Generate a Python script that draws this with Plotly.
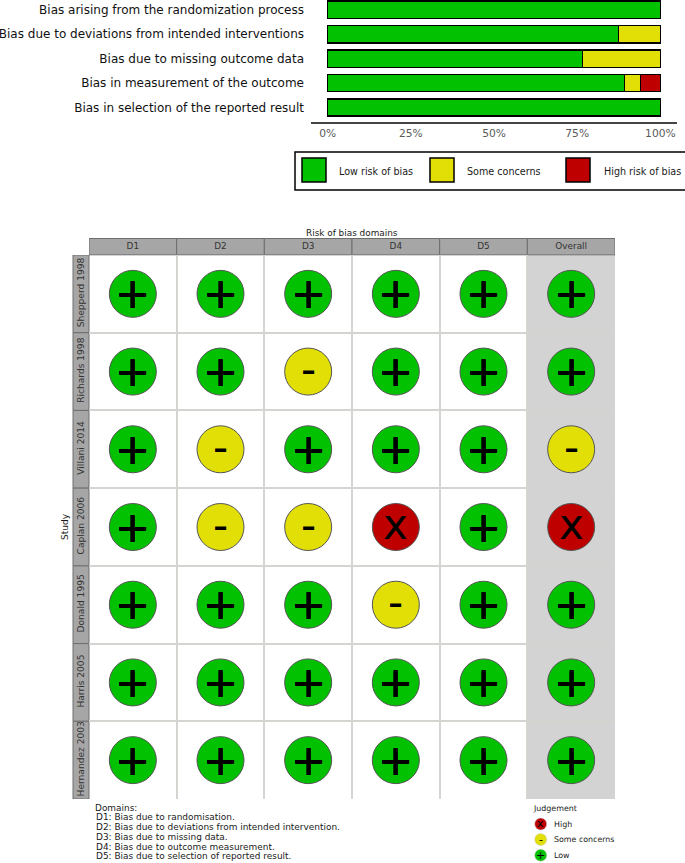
import plotly.graph_objects as go

W, H = 685, 863
FONT = "DejaVu Sans"
GREEN, YELLOW, RED = "#02C100", "#E2DF07", "#BF0000"

# ---- summary data
domains_long = ["Bias arising from the randomization process",
                "Bias due to deviations from intended interventions",
                "Bias due to missing outcome data",
                "Bias in measurement of the outcome",
                "Bias in selection of the reported result"]
low_pct = [100, 87.4, 76.6, 89.2, 100]
some_pct = [0, 12.6, 23.4, 4.9, 0]
high_pct = [0, 0, 0, 5.9, 0]
pct_ticks = [0, 25, 50, 75, 100]
pct_labels = ["0%", "25%", "50%", "75%", "100%"]
legend_names = ["Low risk of bias", "Some concerns", "High risk of bias"]

# ---- traffic-light data
studies = ["Shepperd 1998", "Richards 1998", "Villani 2014", "Caplan 2006",
           "Donald 1995", "Harris 2005", "Hernandez 2003"]
columns = ["D1", "D2", "D3", "D4", "D5", "Overall"]
judgements = [["+", "+", "+", "+", "+", "+"],
              ["+", "+", "-", "+", "+", "+"],
              ["+", "-", "+", "+", "+", "-"],
              ["+", "-", "-", "x", "+", "x"],
              ["+", "+", "+", "-", "+", "+"],
              ["+", "+", "+", "+", "+", "+"],
              ["+", "+", "+", "+", "+", "+"]]
domain_notes = ["Domains:",
                "D1: Bias due to randomisation.",
                "D2: Bias due to deviations from intended intervention.",
                "D3: Bias due to missing data.",
                "D4: Bias due to outcome measurement.",
                "D5: Bias due to selection of reported result."]
judgement_names = ["High", "Some concerns", "Low"]
judgement_marks = ["x", "-", "+"]

COL = {"+": GREEN, "-": YELLOW, "x": RED}
SHIFT = {"+": 0, "-": 2, "x": 3}
THICKEN = {"+": "0.2px 0 0 #000, -0.2px 0 0 #000, 0 0.2px 0 #000, 0 -0.2px 0 #000",
           "-": "none", "x": "none"}


def px(x):
    return x / W


def py(y):
    return 1 - y / H


def label(x, y, text, size, color="#1a1a1a", anchor="left", angle=0):
    return dict(x=px(x), y=py(y), xref="paper", yref="paper", text=text, showarrow=False,
                xanchor=anchor, yanchor="middle", textangle=angle,
                font=dict(family=FONT, size=size, color=color))


def rect(x0, y0, x1, y1, fill, line="#000000", lw=1.5, layer="above"):
    return dict(type="rect", xref="paper", yref="paper", x0=px(x0), x1=px(x1), y0=py(y0), y1=py(y1),
                fillcolor=fill, line=dict(color=line, width=lw), layer=layer)


fig = go.Figure()

# summary bars
for vals, name, col in zip([low_pct, some_pct, high_pct], legend_names, [GREEN, YELLOW, RED]):
    fig.add_bar(x=vals, y=domains_long, orientation="h", name=name, xaxis="x", yaxis="y",
                marker=dict(color=col, line=dict(color="#000000", width=1.5)), showlegend=False)

# traffic-light circles
xs, ys, cs = [], [], []
annotations = []
for r, study in enumerate(studies):
    for c, col in enumerate(columns):
        j = judgements[r][c]
        xs.append(col)
        ys.append(study)
        cs.append(COL[j])
        annotations.append(dict(x=col, y=study, xref="x2", yref="y2", text=j, showarrow=False,
                                xanchor="center", yanchor="middle", yshift=SHIFT[j],
                                font=dict(family=FONT, size=42, color="#000000", shadow=THICKEN[j])))
fig.add_scatter(x=xs, y=ys, mode="markers", xaxis="x2", yaxis="y2", showlegend=False,
                marker=dict(size=47, color=cs, line=dict(color="#555555", width=1)))

# judgement legend
fig.add_scatter(x=[0, 0, 0], y=judgement_names, mode="markers", xaxis="x3", yaxis="y3", showlegend=False,
                marker=dict(size=12, color=[COL[m] for m in judgement_marks],
                            line=dict(color="#cccccc", width=0.5)), cliponaxis=False)
for name, m in zip(judgement_names, judgement_marks):
    annotations.append(dict(x=0, y=name, xref="x3", yref="y3", text=m, showarrow=False, xanchor="center",
                            yanchor="middle", yshift=SHIFT[m] * 0.3,
                            font=dict(family=FONT, size=11, color="#000000")))
    annotations.append(dict(x=0, y=name, xref="x3", yref="y3", text=name, showarrow=False, xanchor="left",
                            yanchor="middle", xshift=11,
                            font=dict(family=FONT, size=7.9, color="#222222")))

annotations += [label(352, 232.5, "Risk of bias domains", 8.9, anchor="center"),
                label(65, 527, "Study", 9, anchor="center", angle=-90),
                label(531, 808, "Judgement", 7.9)]
for i, note in enumerate(domain_notes):
    annotations.append(label(93.5, 807.5 + 9.75 * i, note, 8.95))

for x, name in zip([337, 465, 602], legend_names):
    annotations.append(label(x, 171, name, 9.6))

shapes = [rect(295, 152, 700, 190, "rgba(0,0,0,0)"),
          rect(302, 158, 326, 182, GREEN),
          rect(430, 158, 454, 182, YELLOW),
          rect(566, 158, 590, 182, RED)]

# strips & overall background
STRIP = "#A6A6A6"
shapes.append(dict(type="rect", xref="x2", yref="y2 domain", x0=4.5, x1=5.5, y0=0, y1=1,
                   fillcolor="#D3D3D3", line=dict(width=0), layer="below"))
for c in range(len(columns)):
    shapes.append(dict(type="rect", xref="x2", yref="paper", x0=c - 0.5, x1=c + 0.5,
                       y0=py(254.8), y1=py(238.5), fillcolor=STRIP,
                       line=dict(color="#6e6e6e", width=1), layer="below"))
for r in range(len(studies)):
    shapes.append(dict(type="rect", yref="y2", xref="paper", y0=r - 0.5, y1=r + 0.5,
                       x0=px(73), x1=px(89), fillcolor=STRIP,
                       line=dict(color="#6e6e6e", width=1), layer="below"))

fig.update_layout(
    width=W, height=H, margin=dict(l=0, r=0, t=0, b=0), autosize=False,
    paper_bgcolor="white", plot_bgcolor="white", barmode="stack", bargap=0.286,
    font=dict(family=FONT, color="#1a1a1a"),
    xaxis=dict(domain=[px(311), px(677)], anchor="y", range=[-5, 105], tickvals=pct_ticks, ticktext=pct_labels,
               automargin=False, showgrid=False, zeroline=False, showline=True, linecolor="#444444", linewidth=1.5,
               ticks="", ticklabelstandoff=0, tickfont=dict(family=FONT, size=10.7, color="#5a5a5a")),
    yaxis=dict(domain=[py(122), 1], anchor="x", type="category", range=[4.592, -0.388], showgrid=False,
               automargin=False, zeroline=False, showline=False, ticks="", ticklabelstandoff=6,
               tickfont=dict(family=FONT, size=12, color="#111111")),
    xaxis2=dict(domain=[px(89), px(615)], anchor="y2", side="top", type="category", categoryorder="array",
                categoryarray=columns, range=[-0.5, 5.5], tickson="boundaries", showgrid=True, automargin=False,
                gridcolor="#D3D6D0", gridwidth=1.5, zeroline=False, showline=False, ticks="",
                ticklabelstandoff=3, tickfont=dict(family=FONT, size=8.9, color="#333333")),
    yaxis2=dict(domain=[py(799), py(255)], anchor="x2", type="category", categoryorder="array",
                categoryarray=studies, range=[6.5, -0.5], tickson="boundaries", showgrid=True, automargin=False,
                gridcolor="#D3D6D0", gridwidth=1.5, zeroline=False, showline=False, ticks="",
                tickangle=-90, ticklabelstandoff=2, tickfont=dict(family=FONT, size=9.1, color="#333333")),
    xaxis3=dict(domain=[px(530), px(551.4)], anchor="y3", range=[-1, 1], visible=False, automargin=False),
    yaxis3=dict(domain=[py(863), py(816.2)], anchor="x3", type="category", categoryorder="array",
                categoryarray=judgement_names, range=[2.5, -0.5], visible=False, automargin=False),
    shapes=shapes, annotations=annotations,
)

fig.write_html("out.html", config=dict(displayModeBar=False),
               post_script="document.body.style.margin='0';document.documentElement.style.overflow='hidden';")
